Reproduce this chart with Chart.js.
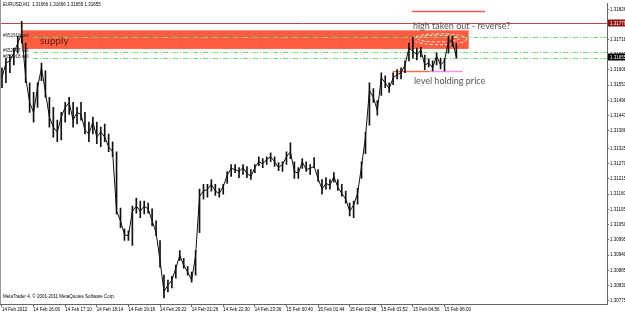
<!DOCTYPE html>
<html>
<head>
<meta charset="utf-8">
<script src="https://cdn.jsdelivr.net/npm/chart.js@4.4.1/dist/chart.umd.min.js"></script>
<style>
    html, body { margin: 0; padding: 0; background: #fff; }
    #wrap { width: 625px; height: 317px; position: relative; }
</style>
</head>
<body>
<div id="wrap"><canvas id="grafico" width="625" height="317"></canvas></div>
<script>
// EURUSD M1 - uma amostra a cada 8 barras (máxima, mínima, fechamento)
const barStep = 8;
const highs = [1.31616,1.31651,1.31662,1.31687,1.31730,1.31783,1.31705,1.31562,1.31527,1.31562,
    1.31633,1.31605,1.31509,1.31473,1.31427,1.31455,1.31491,1.31509,1.31491,1.31473,
    1.31491,1.31455,1.31420,1.31438,1.31420,1.31402,1.31413,1.31377,1.31349,1.31313,
    1.31110,1.31035,1.31028,1.31117,1.31146,1.31135,1.31135,1.31128,1.31107,1.31064,
    1.30993,1.30868,1.30850,1.30864,1.30904,1.30957,1.30929,1.30900,1.30879,1.30957,
    1.31178,1.31196,1.31196,1.31213,1.31196,1.31181,1.31196,1.31242,1.31267,1.31267,
    1.31256,1.31267,1.31260,1.31249,1.31267,1.31295,1.31288,1.31295,1.31309,1.31295,
    1.31274,1.31277,1.31313,1.31345,1.31277,1.31256,1.31288,1.31277,1.31267,1.31292,
    1.31249,1.31213,1.31220,1.31213,1.31238,1.31213,1.31196,1.31171,1.31128,1.31135,
    1.31181,1.31277,1.31384,1.31562,1.31541,1.31498,1.31598,1.31587,1.31562,1.31598,
    1.31609,1.31616,1.31641,1.31705,1.31726,1.31687,1.31690,1.31662,1.31648,1.31641,
    1.31669,1.31651,1.31648,1.31730,1.31730,1.31705];
const lows = [1.31544,1.31562,1.31598,1.31626,1.31669,1.31705,1.31562,1.31455,1.31420,1.31473,
    1.31569,1.31509,1.31402,1.31366,1.31349,1.31356,1.31420,1.31448,1.31402,1.31413,
    1.31427,1.31377,1.31349,1.31377,1.31342,1.31331,1.31349,1.31313,1.31295,1.31089,
    1.31039,1.30993,1.30993,1.30975,1.31092,1.31075,1.31089,1.31092,1.31046,1.31010,
    1.30897,1.30786,1.30808,1.30822,1.30857,1.30921,1.30893,1.30868,1.30843,1.30868,
    1.31021,1.31142,1.31149,1.31171,1.31156,1.31149,1.31160,1.31199,1.31224,1.31238,
    1.31220,1.31231,1.31220,1.31213,1.31238,1.31263,1.31256,1.31267,1.31277,1.31260,
    1.31245,1.31242,1.31267,1.31288,1.31217,1.31217,1.31253,1.31242,1.31231,1.31256,
    1.31206,1.31160,1.31178,1.31178,1.31203,1.31174,1.31153,1.31128,1.31082,1.31075,
    1.31124,1.31217,1.31306,1.31409,1.31491,1.31445,1.31516,1.31544,1.31527,1.31555,
    1.31576,1.31576,1.31598,1.31641,1.31651,1.31644,1.31655,1.31609,1.31619,1.31605,
    1.31626,1.31612,1.31605,1.31669,1.31694,1.31651];
const closes = [1.31580,1.31633,1.31641,1.31669,1.31705,1.31740,1.31580,1.31491,1.31455,1.31544,
    1.31616,1.31527,1.31438,1.31402,1.31384,1.31438,1.31473,1.31491,1.31427,1.31455,
    1.31448,1.31391,1.31377,1.31420,1.31366,1.31384,1.31366,1.31331,1.31313,1.31099,
    1.31064,1.31014,1.31010,1.31099,1.31117,1.31099,1.31117,1.31107,1.31064,1.31021,
    1.30921,1.30808,1.30832,1.30850,1.30893,1.30939,1.30904,1.30879,1.30850,1.30939,
    1.31153,1.31171,1.31178,1.31196,1.31171,1.31163,1.31188,1.31228,1.31253,1.31249,
    1.31242,1.31256,1.31235,1.31224,1.31256,1.31277,1.31270,1.31285,1.31295,1.31277,
    1.31256,1.31267,1.31295,1.31313,1.31242,1.31235,1.31277,1.31249,1.31253,1.31260,
    1.31217,1.31178,1.31199,1.31192,1.31224,1.31185,1.31163,1.31142,1.31099,1.31121,
    1.31163,1.31260,1.31366,1.31534,1.31509,1.31462,1.31580,1.31562,1.31541,1.31580,
    1.31591,1.31598,1.31626,1.31687,1.31676,1.31662,1.31680,1.31626,1.31633,1.31616,
    1.31658,1.31626,1.31641,1.31712,1.31712,1.31655];

// eixo do tempo (índice da barra) e eixo de preço
const timeTicks = [0, 64, 128, 192, 256, 320, 384, 448, 512, 576, 640, 704, 768, 832, 896];
const timeLabels = ["14 Feb 2012", "14 Feb 16:06", "14 Feb 17:10", "14 Feb 18:14", "14 Feb 19:18",
    "14 Feb 20:22", "14 Feb 21:26", "14 Feb 22:30", "14 Feb 23:36", "15 Feb 00:40",
    "15 Feb 01:44", "15 Feb 02:48", "15 Feb 03:52", "15 Feb 04:56", "15 Feb 06:00"];
const priceTicks = [1.31826, 1.31770, 1.31718, 1.31663, 1.31608, 1.31553, 1.31498, 1.31443, 1.31388, 1.31325,
    1.31270, 1.31215, 1.31160, 1.31105, 1.31050, 1.30995, 1.30940, 1.30885, 1.30830, 1.30775];

// anotações (barra inicial, barra final, preços)
const supplyZone = [40, 945, 1.31751, 1.31684];
const sellOrders = [1.31726, 1.31672, 1.31651];
const sellTickets = ["#652919 sell", "#652917 sell", "#652918 sell"];
const resistLine = 1.31779;
const lastPrice = 1.31655;
const highMark = [830, 978, 1.31822];
const holdLevel = [791, 866, 933, 1.31605];
const ellipses = [[887, 1.31719, 54, 0.00020], [884, 1.31721, 42, 0.00012]];
const notes = [
    ["supply", 77, 1.31715],
    ["high taken out - reverse?", 832, 1.31765],
    ["level holding price", 834, 1.31569]
];

const anotacoes = {
    id: "anotacoes",
    beforeDatasetsDraw(chart) {
        const { ctx, chartArea: a, scales: { x, y } } = chart;
        const px = v => x.getPixelForValue(v);
        const py = v => Math.round(y.getPixelForValue(v)) + 0.5;
        ctx.save();
        ctx.beginPath();
        ctx.rect(a.left, a.top, a.right - a.left, a.bottom - a.top);
        ctx.clip();

        // zona de oferta
        const zy0 = y.getPixelForValue(supplyZone[2]);
        const zy1 = y.getPixelForValue(supplyZone[3]);
        ctx.fillStyle = "#ff5c40";
        ctx.fillRect(px(supplyZone[0]), zy0, px(supplyZone[1]) - px(supplyZone[0]), zy1 - zy0);

        // linha de resistência
        ctx.strokeStyle = "#b84a4a";
        ctx.lineWidth = 1;
        ctx.beginPath();
        ctx.moveTo(a.left, py(resistLine));
        ctx.lineTo(a.right, py(resistLine));
        ctx.stroke();

        // ordens de venda
        ctx.strokeStyle = "#74d874";
        ctx.setLineDash([5, 2, 1, 2]);
        sellOrders.forEach(p => {
            ctx.beginPath();
            ctx.moveTo(px(63), py(p));
            ctx.lineTo(a.right, py(p));
            ctx.stroke();
        });
        ctx.setLineDash([]);

        // marca da máxima
        ctx.lineWidth = 1.3;
        ctx.strokeStyle = "#f25a5a";
        ctx.beginPath();
        ctx.moveTo(px(highMark[0]), py(highMark[2]));
        ctx.lineTo(px(highMark[1]), py(highMark[2]));
        ctx.stroke();

        // nível segurando o preço
        ctx.strokeStyle = "#f27050";
        ctx.beginPath();
        ctx.moveTo(px(holdLevel[0]), py(holdLevel[3]));
        ctx.lineTo(px(holdLevel[1]), py(holdLevel[3]));
        ctx.stroke();
        ctx.strokeStyle = "#ee90e8";
        ctx.beginPath();
        ctx.moveTo(px(holdLevel[1]), py(holdLevel[3]));
        ctx.lineTo(px(holdLevel[2]), py(holdLevel[3]));
        ctx.stroke();
        ctx.lineWidth = 1;

        // elipses tracejadas
        ctx.strokeStyle = "rgba(255,255,255,0.85)";
        ctx.setLineDash([3, 2]);
        ellipses.forEach(e => {
            const cx = px(e[0]), cy = y.getPixelForValue(e[1]);
            const rx = px(e[0] + e[2]) - cx;
            const ry = y.getPixelForValue(e[1] - e[3]) - cy;
            ctx.beginPath();
            ctx.ellipse(cx, cy, rx, ry, 0, 0, Math.PI * 2);
            ctx.stroke();
        });
        ctx.setLineDash([]);

        // textos
        ctx.textBaseline = "middle";
        ctx.textAlign = "left";
        notes.forEach((n, i) => {
            ctx.font = i === 0 ? "10px Lato" : "9px Lato";
            ctx.fillStyle = i === 0 ? "#5a2418" : "#555";
            ctx.fillText(n[0], px(n[1]), y.getPixelForValue(n[2]));
        });

        ctx.font = "4.5px 'Liberation Sans'";
        ctx.fillStyle = "#222";
        ctx.textBaseline = "bottom";
        sellOrders.forEach((p, i) => {
            ctx.fillText(sellTickets[i], a.left + 3, py(p) + 0.5);
        });
        ctx.restore();
    },
    afterDraw(chart) {
        const { ctx, chartArea: a, scales: { y } } = chart;
        ctx.save();
        // borda esquerda
        ctx.strokeStyle = "#999";
        ctx.beginPath();
        ctx.moveTo(0.5, 0);
        ctx.lineTo(0.5, a.bottom);
        ctx.stroke();

        // rótulos de preço no eixo
        ctx.font = "4.5px 'Liberation Sans'";
        ctx.textBaseline = "middle";
        ctx.textAlign = "left";
        [[resistLine, "#8e1414"], [lastPrice, "#000"]].forEach(([p, cor]) => {
            const yy = Math.round(y.getPixelForValue(p));
            ctx.fillStyle = cor;
            ctx.fillRect(a.right + 1, yy - 3.5, 625 - a.right - 1, 7);
            ctx.fillStyle = "#fff";
            ctx.fillText(p.toFixed(5), a.right + 3, yy + 0.5);
        });

        // cabeçalho e rodapé
        ctx.fillStyle = "#000";
        ctx.fillText("EURUSD,M1  1.31666 1.31666 1.31655 1.31655", 3, 5);
        ctx.fillText("MetaTrader 4, \u00a9 2001-2011 MetaQuotes Software Corp.", 3, 297);
        ctx.restore();
    }
};

new Chart(document.getElementById("grafico"), {
    type: "bar",
    data: {
        datasets: [{
            type: "bar",
            data: highs.map((h, i) => ({ x: i * barStep, y: [lows[i], h] })),
            backgroundColor: "#111",
            barThickness: 1,
            order: 2
        }, {
            type: "line",
            data: closes.map((c, i) => ({ x: i * barStep, y: c })),
            borderColor: "#111",
            borderWidth: 1,
            pointRadius: 0,
            tension: 0,
            order: 1
        }]
    },
    options: {
        responsive: false,
        devicePixelRatio: 1,
        animation: false,
        layout: { padding: 0 },
        plugins: { legend: { display: false }, tooltip: { enabled: false } },
        scales: {
            x: {
                type: "linear",
                min: -4,
                max: 1225,
                offset: false,
                grid: { drawOnChartArea: false, tickLength: 3, color: "#666", offset: false },
                border: { color: "#666" },
                afterBuildTicks: s => { s.ticks = timeTicks.map(v => ({ value: v })); },
                afterFit: s => { s.height = 13; },
                ticks: {
                    autoSkip: false,
                    maxRotation: 0,
                    align: "start",
                    padding: 0,
                    color: "#000",
                    font: { size: 4.5, family: "'Liberation Sans'" },
                    callback: (v, i) => timeLabels[i]
                }
            },
            y: {
                type: "linear",
                position: "right",
                min: 1.30764,
                max: 1.31847,
                grid: { drawOnChartArea: false, tickLength: 2, color: "#666" },
                border: { color: "#666" },
                afterBuildTicks: s => { s.ticks = priceTicks.map(v => ({ value: v })); },
                afterFit: s => { s.width = 18; },
                ticks: {
                    autoSkip: false,
                    padding: 1,
                    color: "#000",
                    font: { size: 4.5, family: "'Liberation Sans'" },
                    callback: v => v.toFixed(5)
                }
            }
        }
    },
    plugins: [anotacoes]
});
</script>
</body>
</html>
